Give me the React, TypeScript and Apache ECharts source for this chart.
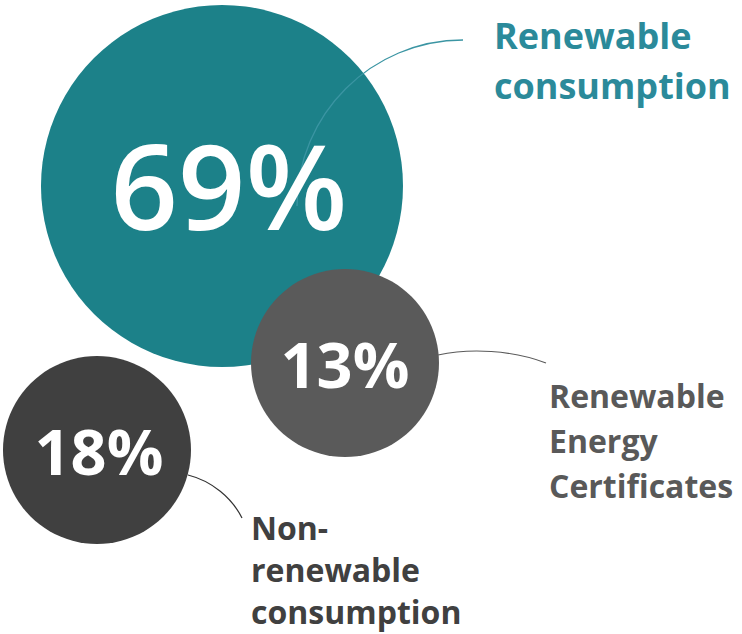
import React, { useEffect, useRef } from "react";
import * as echarts from "echarts";

// Share of electricity consumption by source (%)
const categories = [
  "Renewable consumption",
  "Renewable Energy Certificates",
  "Non-renewable consumption",
];
const shares = [69, 13, 18];
const calloutText = [
  "Renewable\nconsumption",
  "Renewable\nEnergy\nCertificates",
  "Non-\nrenewable\nconsumption",
];

// Bubble centres on a pixel-like canvas (x right, y down)
const bubbleCenters = [
  [222, 186],
  [345, 363],
  [97, 450],
];
const bubbleColors = ["#1C8189", "#5A5A5A", "#404040"];
const calloutColors = ["#2B8A9A", "#595959", "#404040"];
const percentFont = [118, 63, 63];
const percentWeight = [600, 700, 700];
const percentOffset = [
  [7, -2],
  [0, 0],
  [2, 0],
];

const W = 742;
const H = 634;
const FONT = '"Open Sans", "Noto Sans", sans-serif';

export default function App() {
  const ref = useRef<HTMLDivElement>(null);

  useEffect(() => {
    if (!ref.current) return;
    const chart = echarts.init(ref.current, undefined, { renderer: "svg" });
    const maxShare = Math.max(...shares);
    const sizeOf = (v: number) => Math.max(188, 362 * Math.sqrt(v / maxShare));

    const points = shares.map((v, i) => ({
      name: categories[i],
      value: [bubbleCenters[i][0], bubbleCenters[i][1], v],
      itemStyle: { color: bubbleColors[i], opacity: 1 },
      label: {
        fontSize: percentFont[i],
        fontWeight: percentWeight[i],
        offset: percentOffset[i],
      },
    }));

    chart.setOption({
      animation: false,
      grid: { left: 0, right: 0, top: 0, bottom: 0 },
      xAxis: { type: "value", min: 0, max: W, show: false },
      yAxis: { type: "value", min: 0, max: H, inverse: true, show: false },
      series: [
        {
          type: "scatter",
          z: 2,
          symbol: "circle",
          symbolSize: (val: number[]) => sizeOf(val[2]),
          itemStyle: { opacity: 1 },
          data: points.map((p) => ({ ...p, label: { show: false } })),
          silent: true,
        },
        {
          type: "scatter",
          z: 10,
          symbolSize: 0,
          itemStyle: { opacity: 1 },
          data: points,
          silent: true,
          label: {
            show: true,
            position: "inside",
            color: "#FFFFFF",
            opacity: 1,
            fontFamily: FONT,
            formatter: (p: any) => `${p.value[2]}%`,
          },
        },
      ],
      graphic: [
        // callout connectors
        {
          type: "bezierCurve",
          z: 5,
          shape: { x1: 463, y1: 40, cpx1: 372, cpy1: 40, cpx2: 297, cpy2: 114, x2: 297, y2: 206 },
          style: { stroke: "#3B95A3", lineWidth: 1.3, fill: null },
          silent: true,
        },
        {
          type: "bezierCurve",
          z: 5,
          shape: { x1: 438, y1: 355, cpx1: 470, cpy1: 348, cpx2: 512, cpy2: 350, x2: 546, y2: 363 },
          style: { stroke: "#5A5A5A", lineWidth: 1.2, fill: null },
          silent: true,
        },
        {
          type: "bezierCurve",
          z: 5,
          shape: { x1: 188, y1: 475, cpx1: 212, cpy1: 481, cpx2: 232, cpy2: 498, x2: 242, y2: 518 },
          style: { stroke: "#333333", lineWidth: 1.2, fill: null },
          silent: true,
        },
        // callout texts
        {
          type: "text",
          z: 5,
          x: 494,
          y: 10,
          style: {
            text: calloutText[0],
            fill: calloutColors[0],
            font: `700 36px ${FONT}`,
            lineHeight: 50,
            verticalAlign: "top",
          },
        },
        {
          type: "text",
          z: 5,
          x: 549,
          y: 373,
          style: {
            text: calloutText[1],
            fill: calloutColors[1],
            font: `700 32px ${FONT}`,
            lineHeight: 45,
            verticalAlign: "top",
          },
        },
        {
          type: "text",
          z: 5,
          x: 251,
          y: 506,
          style: {
            text: calloutText[2],
            fill: calloutColors[2],
            font: `700 32px ${FONT}`,
            lineHeight: 42,
            verticalAlign: "top",
          },
        },
      ],
    });

    return () => chart.dispose();
  }, []);

  return (
    <div
      ref={ref}
      style={{ position: "fixed", left: 0, top: 0, width: W, height: H, background: "#FFFFFF" }}
    />
  );
}
